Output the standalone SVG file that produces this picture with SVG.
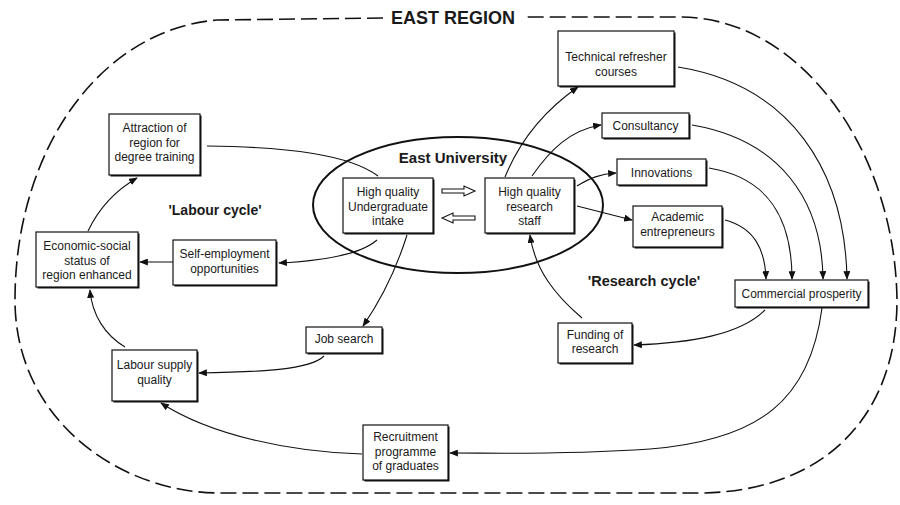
<svg xmlns="http://www.w3.org/2000/svg" width="900" height="505" viewBox="0 0 900 505">
<style>
text{font-family:"Liberation Sans",Arial,sans-serif;fill:#1a1a1a;text-anchor:middle}
.t{font-size:12px}
.b{font-weight:bold}
.box{fill:#fff;stroke:#111;stroke-width:1.2}
.sh{fill:#111}
.c{fill:none;stroke:#111;stroke-width:1.1}
.ca{fill:none;stroke:#111;stroke-width:1.1;marker-end:url(#ah)}
.dash{fill:none;stroke:#111;stroke-width:1.6;stroke-dasharray:16 6}
.hollow{fill:#fff;stroke:#111;stroke-width:1.1}
</style>
<defs>
<marker id="ah" viewBox="0 0 10 8" refX="9" refY="4" markerWidth="9" markerHeight="7" markerUnits="userSpaceOnUse" orient="auto">
<path d="M0,0 L10,4 L0,8 Z" fill="#111"/>
</marker>
</defs>
<rect width="900" height="505" fill="#fff"/>

<g id="region">
<path class="dash" d="M383,18 L217,20 C100,30 15,150 15,300 C15,420 120,493 220,493 L700,493 C820,492 897,420 897,300 C895,150 800,17 680,17 L525,17"/>
<text x="453" y="24" class="b" style="font-size:18px">EAST REGION</text>
</g>

<g id="university">
<ellipse cx="458" cy="205" rx="145" ry="68" fill="none" stroke="#111" stroke-width="2"/>
<text x="453" y="163" class="b" style="font-size:15px">East University</text>
<path class="hollow" d="M442,189 L464,189 L464,186 L475,191 L464,196 L464,193 L442,193 Z"/>
<path class="hollow" d="M475,216 L453,216 L453,213 L442,218 L453,223 L453,220 L475,220 Z"/>
</g>

<g id="labels">
<text x="215" y="215" class="b" style="font-size:14px">'Labour cycle'</text>
<text x="644" y="286" class="b" style="font-size:14.5px">'Research cycle'</text>
</g>

<g id="connectors">
<path class="ca" d="M88,231 C100,206 118,189 137,178"/>
<path class="c" d="M207,146 C290,147 350,155 378,176"/>
<path class="ca" d="M377,240 C360,255 320,261 279,263"/>
<path class="ca" d="M173,262 L140,262"/>
<path class="ca" d="M125,347 C105,335 92,315 90,290"/>
<path class="ca" d="M407,235 C396,270 381,300 363,326"/>
<path class="ca" d="M324,356 C310,370 260,372 199,373"/>
<path class="ca" d="M362,454 C290,452 210,435 161,403"/>
<path class="ca" d="M822,308 C810,400 760,440 650,449 C560,455 500,453 450,453"/>
<path class="ca" d="M765,310 C740,335 690,343 634,345"/>
<path class="ca" d="M582,318 C555,295 535,270 530,235"/>
<path class="ca" d="M505,177 C520,140 545,110 578,87"/>
<path class="ca" d="M532,176 C550,150 570,130 601,125"/>
<path class="ca" d="M577,186 C590,178 600,174 616,173"/>
<path class="ca" d="M577,206 L632,220"/>
<path class="ca" d="M678,67 C790,85 845,170 847,279"/>
<path class="ca" d="M692,125 C780,140 822,200 823,279"/>
<path class="ca" d="M709,168 C770,178 792,220 792,279"/>
<path class="ca" d="M725,220 C755,228 765,250 766,279"/>
</g>

<g id="n-attraction">
<rect class="sh" x="110.5" y="115.5" width="91" height="61"/>
<rect class="box" x="109" y="114" width="91" height="61"/>
<text class="t" x="154.5" y="132">Attraction of</text>
<text class="t" x="154.5" y="146.5">region for</text>
<text class="t" x="154.5" y="161">degree training</text>
</g>

<g id="n-economic">
<rect class="sh" x="37.5" y="233.5" width="102" height="55"/>
<rect class="box" x="36" y="232" width="102" height="55"/>
<text class="t" x="87" y="250">Economic-social</text>
<text class="t" x="87" y="265">status of</text>
<text class="t" x="87" y="279">region enhanced</text>
</g>

<g id="n-selfemployment">
<rect class="sh" x="174.5" y="241.5" width="103" height="45"/>
<rect class="box" x="173" y="240" width="103" height="45"/>
<text class="t" x="224.5" y="258">Self-employment</text>
<text class="t" x="224.5" y="273">opportunities</text>
</g>

<g id="n-undergrad">
<rect class="sh" x="344.5" y="179.5" width="90" height="55"/>
<rect class="box" x="343" y="178" width="90" height="55"/>
<text class="t" x="388" y="196">High quality</text>
<text class="t" x="388" y="211">Undergraduate</text>
<text class="t" x="388" y="225">intake</text>
</g>

<g id="n-research">
<rect class="sh" x="486.5" y="179.5" width="89" height="55"/>
<rect class="box" x="485" y="178" width="89" height="55"/>
<text class="t" x="529.5" y="196">High quality</text>
<text class="t" x="529.5" y="211">research</text>
<text class="t" x="529.5" y="225">staff</text>
</g>

<g id="n-technical">
<rect class="sh" x="559.5" y="32.5" width="116" height="55"/>
<rect class="box" x="558" y="31" width="116" height="55"/>
<text class="t" x="616" y="61">Technical refresher</text>
<text class="t" x="616" y="76">courses</text>
</g>

<g id="n-consultancy">
<rect class="sh" x="603.5" y="114.5" width="87" height="25"/>
<rect class="box" x="602" y="113" width="87" height="25"/>
<text class="t" x="645.5" y="129.5">Consultancy</text>
</g>

<g id="n-innovations">
<rect class="sh" x="618.5" y="160.5" width="89" height="26"/>
<rect class="box" x="617" y="159" width="89" height="26"/>
<text class="t" x="661.5" y="177">Innovations</text>
</g>

<g id="n-academic">
<rect class="sh" x="634.5" y="207.5" width="89" height="41"/>
<rect class="box" x="633" y="206" width="89" height="41"/>
<text class="t" x="677.5" y="221">Academic</text>
<text class="t" x="677.5" y="236">entrepreneurs</text>
</g>

<g id="n-commercial">
<rect class="sh" x="736.5" y="281.5" width="133" height="27"/>
<rect class="box" x="735" y="280" width="133" height="27"/>
<text class="t" x="801.5" y="298">Commercial prosperity</text>
</g>

<g id="n-funding">
<rect class="sh" x="559.5" y="324.5" width="74" height="40"/>
<rect class="box" x="558" y="323" width="74" height="40"/>
<text class="t" x="595" y="339">Funding of</text>
<text class="t" x="595" y="353">research</text>
</g>

<g id="n-jobsearch">
<rect class="sh" x="307.5" y="328.5" width="76" height="26"/>
<rect class="box" x="306" y="327" width="76" height="26"/>
<text class="t" x="344" y="342.5">Job search</text>
</g>

<g id="n-laboursupply">
<rect class="sh" x="113.5" y="351.5" width="85" height="51"/>
<rect class="box" x="112" y="350" width="85" height="51"/>
<text class="t" x="154.5" y="369">Labour supply</text>
<text class="t" x="154.5" y="384">quality</text>
</g>

<g id="n-recruitment">
<rect class="sh" x="364.5" y="426.5" width="85" height="55"/>
<rect class="box" x="363" y="425" width="85" height="55"/>
<text class="t" x="405.5" y="441">Recruitment</text>
<text class="t" x="405.5" y="456">programme</text>
<text class="t" x="405.5" y="470">of graduates</text>
</g>
</svg>
